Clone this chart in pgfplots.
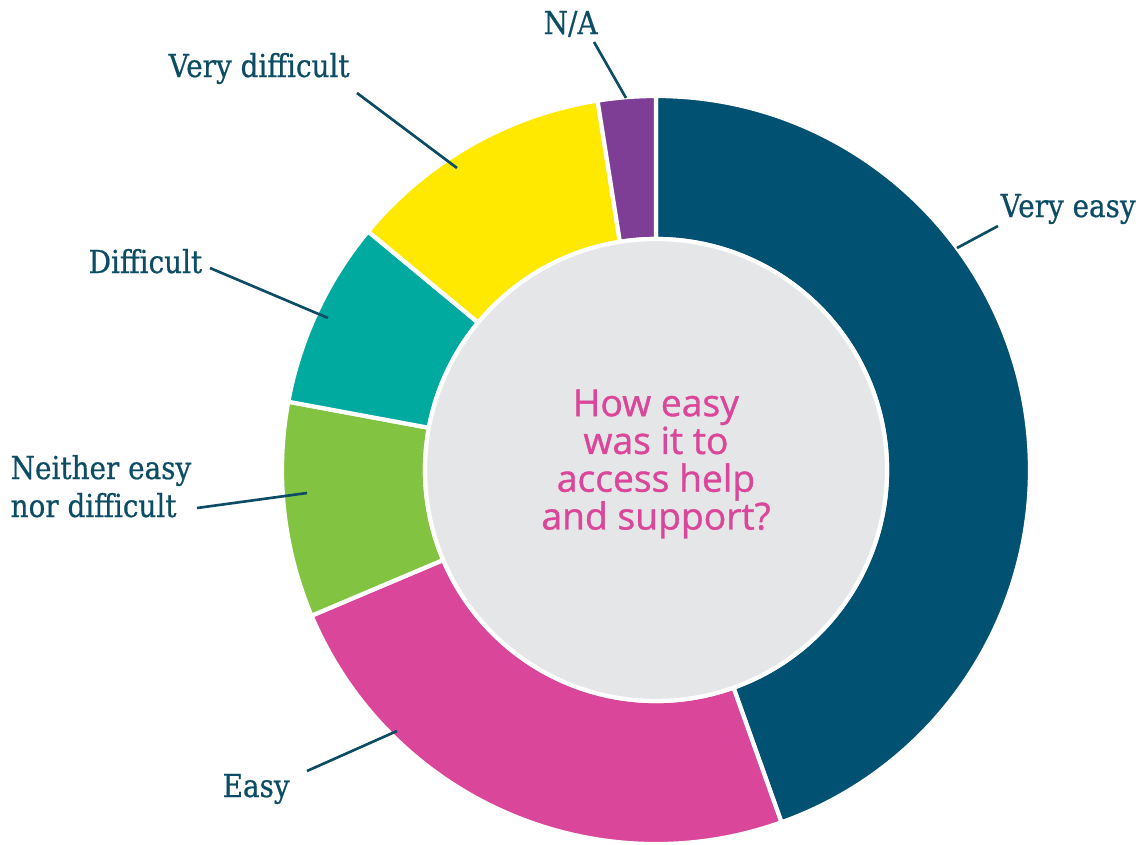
\documentclass[border=0pt]{standalone}
\usepackage{pgfplots}
\pgfplotsset{compat=1.18}
\usepackage{pgfplotstable}
\usepackage{fontspec}
\setmainfont[FakeStretch=0.88, FakeBold=0.6]{DejaVu Serif}
\newfontfamily\centerfont[FakeBold=1.0]{Open Sans}
\definecolor{cVE}{RGB}{0,81,114}
\definecolor{cE}{RGB}{218,70,153}
\definecolor{cN}{RGB}{130,195,65}
\definecolor{cD}{RGB}{0,170,159}
\definecolor{cVD}{RGB}{255,233,0}
\definecolor{cNA}{RGB}{126,62,150}
\definecolor{cGray}{RGB}{229,230,231}
\definecolor{cLab}{RGB}{12,76,100}
\pgfplotstableread{
label value color
VeryEasy 44.6 cVE
Easy 24.1 cE
Neither 9.3 cN
Difficult 8.1 cD
VeryDifficult 11.5 cVD
NA 2.5 cNA
}\datatable
\begin{document}
\begin{tikzpicture}
\begin{axis}[
  x=1cm, y=1cm, disabledatascaling,
  xmin=-6.56, xmax=4.86, ymin=-3.75, ymax=4.70,
  hide axis, clip=false, scale only axis,
]
\coordinate (SW) at (axis cs:-6.56,-3.75);
\coordinate (NE) at (axis cs:4.86,4.70);
\pgfplotsextra{
  \gdef\cum{0}
  \def\total{100.1}
  \pgfplotstablegetrowsof{\datatable}
  \pgfmathtruncatemacro\nrows{\pgfplotsretval-1}
  \foreach \i in {0,...,\nrows}{
    \pgfplotstablegetelem{\i}{value}\of\datatable
    \let\segv\pgfplotsretval
    \pgfplotstablegetelem{\i}{color}\of\datatable
    \let\segc\pgfplotsretval
    \pgfmathsetmacro\sega{90-3.6*(\cum/\total)*100}
    \pgfmathsetmacro\segb{90-3.6*((\cum+\segv)/\total)*100}
    \fill[\segc, draw=white, line width=1.2pt]
      (axis cs:{3.74*cos(\sega)},{3.74*sin(\sega)})
      arc[start angle=\sega, end angle=\segb, radius=3.74]
      -- (axis cs:{2.31*cos(\segb)},{2.31*sin(\segb)})
      arc[start angle=\segb, end angle=\sega, radius=2.31] -- cycle;
    \pgfmathsetmacro\newcum{\cum+\segv}
    \xdef\cum{\newcum}
  }
  \fill[cGray, draw=white, line width=1.2pt] (axis cs:0,0) circle[radius=2.31];
}
\node[align=center, text=cE, font=\centerfont\fontsize{10.6}{10.75}\selectfont] at (axis cs:0,0.06)
  {How easy\\was it to\\access help\\and support?};
% leader lines
\begin{scope}[draw=cLab, line width=0.75pt]
\draw (axis cs:3.01,2.22) -- (axis cs:3.42,2.44);
\draw (axis cs:-2.99,3.77) -- (axis cs:-1.99,3.02);
\draw (axis cs:-0.62,4.28) -- (axis cs:-0.30,3.72);
\draw (axis cs:-4.46,2.02) -- (axis cs:-3.28,1.52);
\draw (axis cs:-4.59,-0.38) -- (axis cs:-3.49,-0.23);
\draw (axis cs:-3.49,-3.01) -- (axis cs:-2.59,-2.61);
\end{scope}
\begin{scope}[every node/.style={text=cLab, font=\fontsize{9}{10.8}\selectfont, inner sep=0pt}]
\node[anchor=base west] at (axis cs:3.44,2.53) {Very easy};
\node[anchor=base west] at (axis cs:-4.88,3.93) {Very difficult};
\node[anchor=base west] at (axis cs:-1.13,4.36) {N/A};
\node[anchor=base west] at (axis cs:-5.68,1.97) {Difficult};
\node[anchor=base west, align=left] at (axis cs:-6.46,-0.47) {Neither easy\\nor difficult};
\node[anchor=base west] at (axis cs:-4.34,-3.27) {Easy};
\end{scope}
\end{axis}
\pgfresetboundingbox
\path[use as bounding box] (SW) rectangle (NE);
\end{tikzpicture}
\end{document}
